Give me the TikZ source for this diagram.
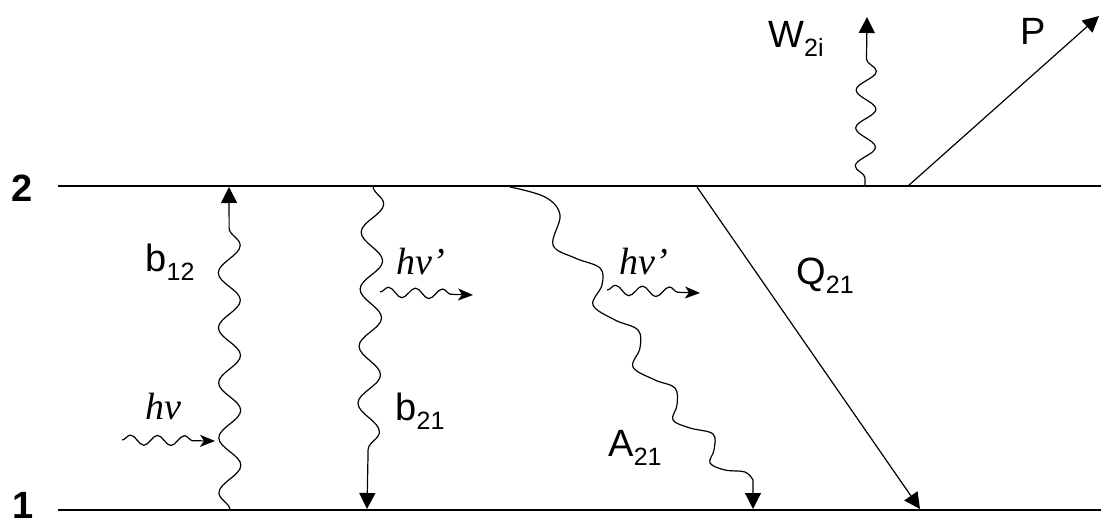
\documentclass[tikz,border=0pt]{standalone}
\usepackage{fontspec}
\setmainfont{Liberation Sans}
\newfontfamily\photonfont{Liberation Serif}
\usetikzlibrary{decorations.pathmorphing,arrows.meta}
% lowered subscript in the label font
\newcommand\lowsub[1]{\raisebox{-9pt}{\fontsize{25}{25}\selectfont #1}}
\begin{document}
\begin{tikzpicture}[x=1pt,y=-1pt,
  level/.style={line width=2.7pt},
  trans/.style={line width=1.2pt},
  bigtip/.style={-{Triangle[length=16pt,width=16pt]}},
  smalltip/.style={-{Stealth[length=15pt,width=12pt,inset=4pt]}},
  lab/.style={inner sep=0pt,font=\fontsize{38}{40}\selectfont},
  lvl/.style={inner sep=0pt,font=\bfseries\fontsize{38}{40}\selectfont},
  phot/.style={inner sep=0pt,font=\photonfont\itshape\fontsize{38}{40}\selectfont},
  vwave/.style={decorate,decoration={snake,amplitude=11pt,segment length=#1,post length=35pt}},
  pwave/.style={trans,smalltip,decorate,decoration={snake,amplitude=5pt,segment length=27pt,post length=12pt}}]
\useasboundingbox (0,0) rectangle (1101,524);

% energy levels
\coordinate (L2a) at (58,186);  \coordinate (L2b) at (1101,186);
\coordinate (L1a) at (58,510);  \coordinate (L1b) at (1101,510);
\draw[level] (L2a) -- (L2b);
\draw[level] (L1a) -- (L1b);
\node[lvl] (n2) at (22,188) {2};
\node[lvl] (n1) at (23,505) {1};

% absorption b12
\coordinate (b12s) at (230,510); \coordinate (b12e) at (229,187);
\draw[trans,bigtip,vwave=55pt] (b12s) -- (b12e);
\node[lab] (lb12) at (170,262) {b\lowsub{12}};

% incoming photon
\coordinate (h1s) at (122,440); \coordinate (h1e) at (215,441);
\draw[pwave] (h1s) -- (h1e);
\node[phot] (th1) at (163,407) {hν};

% stimulated emission b21
\coordinate (b21s) at (373,186); \coordinate (b21e) at (367,509);
\draw[trans,bigtip,vwave=57pt] (b21s) -- (b21e);
\node[lab] (lb21) at (420,411) {b\lowsub{21}};
\coordinate (h2s) at (380,292); \coordinate (h2e) at (473,295);
\draw[pwave] (h2s) -- (h2e);
\node[phot] (th2) at (421,262) {hν’};

% spontaneous emission A21
\coordinate (a21s) at (510,187); \coordinate (a21e) at (753,509);
\draw[trans,bigtip] (a21s) plot[smooth,tension=0.6] coordinates {
  (510,187) (545,197) (560,215) (553,245) (575,258) (600,268) (602,285)
  (593,305) (615,320) (638,330) (640,348) (633,367) (655,380) (675,388)
  (677,405) (673,420) (690,428) (713,434) (714,450) (710,463) (725,470)
  (745,472) (753,480)} -- (a21e);
\node[lab] (la21) at (635,448) {A\lowsub{21}};
\coordinate (h3s) at (607,290); \coordinate (h3e) at (700,293);
\draw[pwave] (h3s) -- (h3e);
\node[phot] (th3) at (644,262) {hν’};

% quenching Q21
\coordinate (q0) at (697,187); \coordinate (q1) at (920,509);
\draw[trans,bigtip] (q0) -- (q1);
\node[lab] (lq21) at (825,276) {Q\lowsub{21}};

% ionisation W2i
\coordinate (w0) at (865,186); \coordinate (w1) at (867,17);
\draw[trans,bigtip,decorate,decoration={snake,amplitude=10pt,segment length=38pt,post length=28pt,pre length=8pt}] (w0) -- (w1);
\node[lab] (lw2i) at (796,39) {W\lowsub{2i}};

% predissociation P
\coordinate (p0) at (908,186); \coordinate (p1) at (1099,16);
\draw[trans,bigtip] (p0) -- (p1);
\node[lab] (lp) at (1033,31) {P};
\end{tikzpicture}
\end{document}
